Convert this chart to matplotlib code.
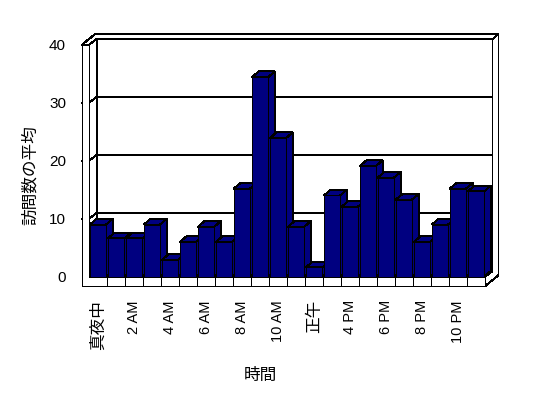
import matplotlib
matplotlib.use('Agg')
import matplotlib.pyplot as plt
from matplotlib.patches import Polygon

plt.rcParams['font.family'] = ['Liberation Sans', 'Noto Sans CJK JP']

# average visits per hour slot (22 slots)
visits = [9.0, 6.6, 6.6, 9.0, 2.9, 6.0, 8.6, 6.0, 15.2, 34.4, 23.9,
          8.6, 1.6, 14.0, 12.1, 19.1, 17.1, 13.3, 6.0, 9.0, 15.2, 14.7]
xtick_pos = list(range(0, 22, 2))
xtick_labels = ['真夜中', '2 AM', '4 AM', '6 AM', '8 AM', '10 AM', '正午',
                '4 PM', '6 PM', '8 PM', '10 PM']
yticks = [0, 10, 20, 30, 40]
xlabel = '時間'
ylabel = '訪問数の平均'

NAVY = '#000080'
LW = 0.72

W, H = 548, 398
fig = plt.figure(figsize=(W / 100, H / 100), dpi=100)
ax = fig.add_axes([89 / W, (H - 276.7) / H, 396 / W, 232 / H])
n = len(visits)
x0, x1 = -0.5, n - 0.5
ytop = yticks[-1]
ax.set_xlim(x0, x1)
ax.set_ylim(0, ytop)

# pixel -> data unit scales
sx = 396 / n
sy = 232 / ytop
Dx, Dy = 7.5 / sx, 5.5 / sy      # depth of floor / left wall up to back wall
Tx, Ty = 13.5 / sx, 11.0 / sy    # depth including back wall thickness
Bx, By = 6.7 / sx, 5.7 / sy      # bar depth
w = 7.0 / sx                     # left wall thickness
fb = -9.5 / sy                   # floor bottom

def poly(pts, z, fc='white'):
    ax.add_patch(Polygon(pts, closed=True, fc=fc, ec='black', lw=LW,
                         clip_on=False, zorder=z, joinstyle='miter',
                         antialiased=False))

# back wall, floor top, left wall inner face
poly([(x0 + Dx, Dy), (x1 + Dx, Dy), (x1 + Dx, ytop + Dy), (x0 + Dx, ytop + Dy)], 1)
poly([(x0, 0), (x1, 0), (x1 + Dx, Dy), (x0 + Dx, Dy)], 1)
poly([(x0, 0), (x0 + Dx, Dy), (x0 + Dx, ytop + Dy), (x0, ytop)], 1)
# top and right slab faces
poly([(x0 - w, ytop), (x0, ytop), (x0 + Dx, ytop + Dy), (x1 + Dx, ytop + Dy),
      (x1 + Tx, ytop + Ty), (x0 - w + Tx, ytop + Ty)], 1)
poly([(x1, fb), (x1, 0), (x1 + Dx, Dy), (x1 + Dx, ytop + Dy),
      (x1 + Tx, ytop + Ty), (x1 + Tx, fb + Ty)], 1)

# gridlines across left wall and back wall
for v in yticks[1:-1]:
    ax.plot([x0 - w, x0, x0 + Dx, x1 + Dx], [v, v, v + Dy, v + Dy],
            color='black', lw=LW, clip_on=False, zorder=2, antialiased=False)

# bars with 3D side and top faces
bars = ax.bar(range(n), visits, width=0.9, color=NAVY, edgecolor='black', lw=LW)
for i, (b, v) in enumerate(zip(bars, visits)):
    left, right = i - 0.45, i + 0.45
    z = 3 + i * 0.01
    poly([(right, 0), (right + Bx, By), (right + Bx, v + By), (right, v)], z, NAVY)
    poly([(left, v), (right, v), (right + Bx, v + By), (left + Bx, v + By)], z, NAVY)
    b.set_zorder(z + 0.005)
    b.set_antialiased(False)

# front face of left wall and floor
poly([(x0 - w, fb), (x0 - w, ytop), (x0, ytop), (x0, 0), (x1, 0), (x1, fb)], 4)
for k in range(1, n):
    ax.plot([x0 + k, x0 + k], [fb, 0], color='black', lw=LW, clip_on=False,
            zorder=4.1, antialiased=False)

for s in ax.spines.values():
    s.set_visible(False)
ax.patch.set_visible(False)

ax.set_yticks(yticks)
ax.set_yticklabels([str(t) for t in yticks], fontsize=11)
ax.set_xticks(xtick_pos)
ax.set_xticklabels(xtick_labels, rotation=90, fontsize=10.5)
for t in ax.get_xticklabels():
    if not t.get_text()[0].isdigit():
        t.set_fontsize(12)
ax.tick_params(axis='y', length=0, pad=16.5)
ax.tick_params(axis='x', length=0, pad=16.8)

fig.text(260 / W, 1 - 375 / H, xlabel, ha='center', va='center', fontsize=12)
fig.text(30 / W, 1 - 175 / H, ylabel, ha='center', va='center', rotation=90, fontsize=12)

fig.savefig('out.png', dpi=100)
